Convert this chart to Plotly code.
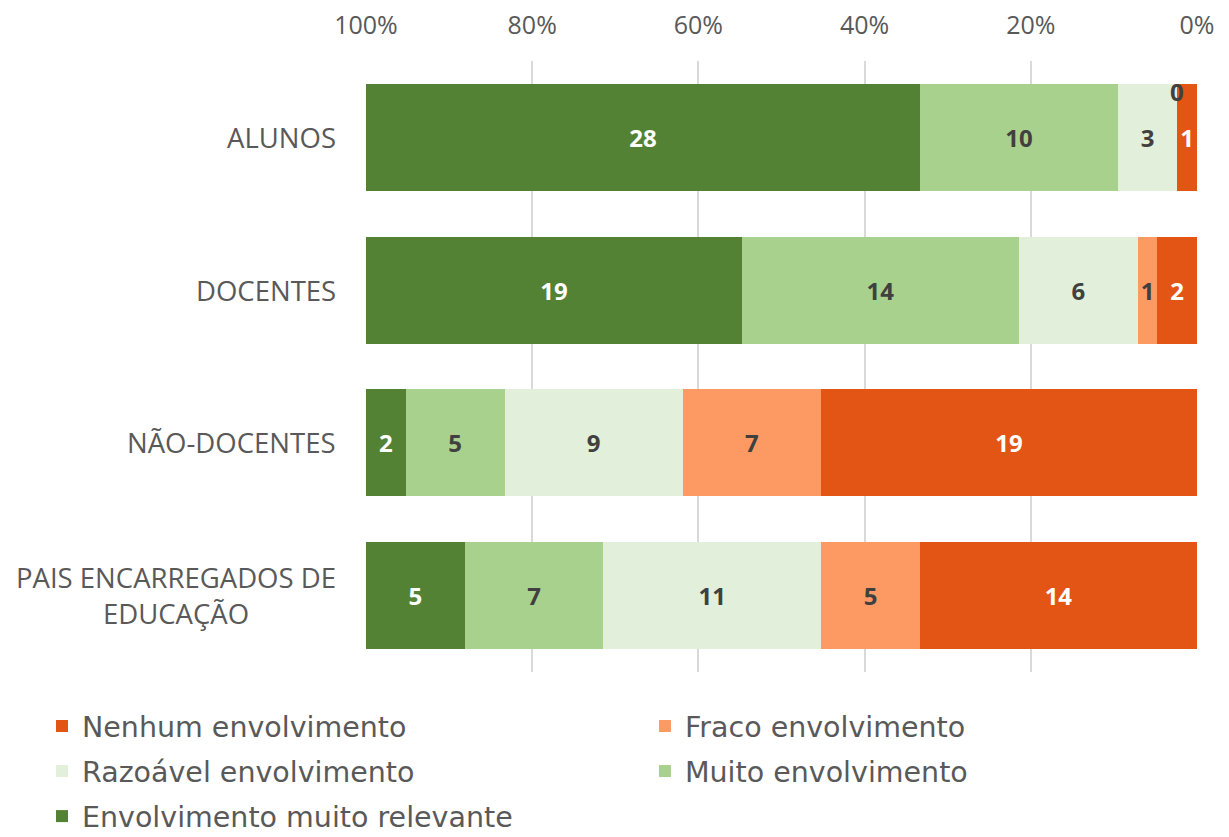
import plotly.graph_objects as go

categories = ["ALUNOS", "DOCENTES", "NÃO-DOCENTES", "PAIS ENCARREGADOS DE<br>EDUCAÇÃO"]
series_names = ["Nenhum envolvimento", "Fraco envolvimento", "Razoável envolvimento",
                "Muito envolvimento", "Envolvimento muito relevante"]
nenhum = [1, 2, 19, 14]
fraco = [0, 1, 7, 5]
razoavel = [3, 6, 9, 11]
muito = [10, 14, 5, 7]
relevante = [28, 19, 2, 5]
series_values = [nenhum, fraco, razoavel, muito, relevante]
colors = ["#E35514", "#FD9A63", "#E2EFDA", "#A9D18E", "#548235"]
text_colors = ["#FFFFFF", "#404040", "#404040", "#404040", "#FFFFFF"]
legend_columns = ["legend", "legend2", "legend", "legend2", "legend"]
tick_vals = [0, 20, 40, 60, 80, 100]
tick_text = ["0%", "20%", "40%", "60%", "80%", "100%"]

fig = go.Figure()
for name, vals, col, tcol, lg in zip(series_names, series_values, colors, text_colors, legend_columns):
    fig.add_trace(go.Bar(
        y=categories, x=vals, name=name, orientation="h",
        marker=dict(color=col, line=dict(width=0)),
        text=[str(v) if v > 0 else "" for v in vals],
        textposition="inside", insidetextanchor="middle",
        textfont=dict(family="Open Sans", size=24, color=tcol, weight="bold"),
        constraintext="none",
        legend=lg, legendgroup=name,
    ))

# zero-value label (shown above the bar at its stacked position)
totals = [sum(s[i] for s in series_values) for i in range(len(categories))]
cum = [0] * len(categories)
for si, vals in enumerate(series_values):
    for i, v in enumerate(vals):
        if v == 0:
            fig.add_annotation(x=cum[i] / totals[i] * 100, y=categories[i],
                               text="<b>0</b>", showarrow=False, yshift=46, xshift=0,
                               font=dict(family="Open Sans", size=24, color="#404040"))
        cum[i] += v

# category labels (centered multi-line)
for c in categories:
    fig.add_annotation(x=0, xref="paper", y=c, yref="y", text=c, showarrow=False,
                       xanchor="right", align="center", xshift=-28,
                       font=dict(family="Open Sans", size=27.5, color="#595959"))

legend_font = dict(family="DejaVu Sans", size=28.5, color="#595959")
fig.update_layout(
    barmode="stack", barnorm="percent", bargap=0.3,
    width=1229, height=837,
    margin=dict(l=358, r=40, t=53, b=173, autoexpand=False),
    plot_bgcolor="white", paper_bgcolor="white",
    xaxis=dict(range=[100, 0], side="top", tickvals=tick_vals, ticktext=tick_text,
               showgrid=True, gridcolor="#D9D9D9", gridwidth=2, zeroline=False,
               showline=False, ticks="", ticklabelstandoff=21, automargin=False,
               tickfont=dict(family="Open Sans", size=25, color="#595959")),
    yaxis=dict(autorange="reversed", showticklabels=False, showgrid=False,
               zeroline=False, showline=False, automargin=False),
    legend=dict(orientation="v", x=-0.3899, xanchor="left", y=-0.0474, yanchor="top",
                traceorder="grouped", tracegroupgap=5, font=legend_font,
                bgcolor="rgba(0,0,0,0)"),
    legend2=dict(orientation="v", x=0.3357, xanchor="left", y=-0.0474, yanchor="top",
                 traceorder="grouped", tracegroupgap=5, font=legend_font,
                 bgcolor="rgba(0,0,0,0)"),
    showlegend=True,
)

fig.write_html("out.html")
